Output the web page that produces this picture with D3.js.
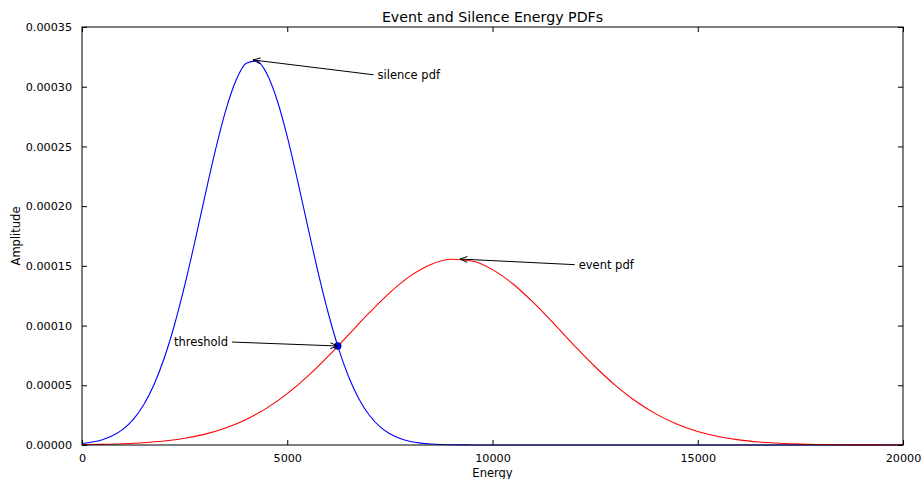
<!DOCTYPE html>
<html>
<head>
<meta charset="utf-8">
<script src="https://cdn.jsdelivr.net/npm/d3@7"></script>
<style>
body { margin: 0; background: #fff; }
text { font-family: "DejaVu Sans", sans-serif; fill: #000; }
</style>
</head>
<body>
<div id="chart"></div>
<script>
// values
var silenceEnergy = [0,250,500,750,1000,1250,1500,1750,2000,2250,2500,2750,3000,3250,3500,3750,4000,4250,4500,4750,5000,5250,5500,5750,6000,6250,6500,6750,7000,7250,7500,7750,8000,8250,8500,8750,9000,9500,10000,11000,12000,13000,14000,15000,16000,17000,18000,19000,20000]
var silenceAmp = [1.285e-6,2.446e-6,4.474e-6,7.859e-6,1.327e-5,2.153e-5,3.357e-5,5.032e-5,7.247e-5,1.0028e-4,1.3335e-4,1.7039e-4,2.0927e-4,2.4695e-4,2.8005e-4,3.0520e-4,3.1962e-4,3.2166e-4,3.1108e-4,2.8911e-4,2.5820e-4,2.2160e-4,1.8277e-4,1.4485e-4,1.1033e-4,8.075e-5,5.679e-5,3.838e-5,2.492e-5,1.557e-5,9.34e-6,5.38e-6,2.98e-6,1.59e-6,8.1e-7,4.0e-7,1.9e-7,3.7e-8,0,0,0,0,0,0,0,0,0,0,0]

var eventEnergy = [0,500,1000,1500,2000,2500,3000,3500,4000,4500,5000,5500,6000,6500,7000,7500,8000,8500,9000,9500,10000,10500,11000,11500,12000,12500,13000,13500,14000,14500,15000,15500,16000,16500,17000,17500,18000,18500,19000,19500,20000]
var eventAmp = [2.86e-7,5.59e-7,1.054e-6,1.914e-6,3.345e-6,5.630e-6,9.125e-6,1.4226e-5,2.1372e-5,3.0903e-5,4.3035e-5,5.7696e-5,7.4474e-5,9.2564e-5,1.1077e-4,1.2763e-4,1.4159e-4,1.5123e-4,1.5553e-4,1.5401e-4,1.4683e-4,1.3478e-4,1.1913e-4,1.0137e-4,8.307e-5,6.552e-5,4.977e-5,3.640e-5,2.563e-5,1.738e-5,1.134e-5,7.13e-6,4.31e-6,2.51e-6,1.41e-6,7.6e-7,4.0e-7,2.0e-7,9.6e-8,4.4e-8,2.0e-8]

var threshold = [6229, 8.29e-5]

var xTicks = [0, 5000, 10000, 15000, 20000]
var yTicks = [0, 0.00005, 0.0001, 0.00015, 0.0002, 0.00025, 0.0003, 0.00035]

// annotation: label, arrow tip (data), text anchor (data)
var noteLabels = ["silence pdf", "event pdf", "threshold"]
var noteTips = [[4166, 3.224e-4], [9208, 1.557e-4], [6229, 8.29e-5]]
var noteTexts = [[7200, 3.10e-4], [12100, 1.51e-4], [2240, 8.62e-5]]

var width = 924, height = 479
var margin = {top: 27, right: 21, bottom: 34, left: 82}

var svg = d3.select("#chart")
        .append("svg")
        .attr("width", width)
        .attr("height", height)

var x = d3.scaleLinear().domain([0, 20000]).range([margin.left, width - margin.right])
var y = d3.scaleLinear().domain([0, 0.00035]).range([height - margin.bottom, margin.top])

var plot = svg.append("g")

function drawCurve(xs, ys, color) {
    var pts = xs.map(function(d, i) { return [d, ys[i]] })
    var line = d3.line()
        .x(function(d) { return x(d[0]) })
        .y(function(d) { return y(d[1]) })
        .curve(d3.curveMonotoneX)
    plot.append("path")
        .datum(pts)
        .attr("d", line)
        .attr("fill", "none")
        .attr("stroke", color)
        .attr("stroke-width", 1.1)
}

drawCurve(silenceEnergy, silenceAmp, "#0000ff")
drawCurve(eventEnergy, eventAmp, "#ff0000")

// frame + axes, ticks inward on all sides
var x0 = margin.left, x1 = width - margin.right
var y0 = height - margin.bottom, y1 = margin.top

svg.append("g")
    .attr("transform", "translate(0," + y0 + ")")
    .call(d3.axisBottom(x).tickValues(xTicks).tickSize(-5).tickPadding(9).tickFormat(d3.format("d")))
    .call(function(g) { g.select(".domain").remove() })
svg.append("g")
    .attr("transform", "translate(0," + y1 + ")")
    .call(d3.axisTop(x).tickValues(xTicks).tickSize(-5).tickFormat(""))
    .call(function(g) { g.select(".domain").remove() })
svg.append("g")
    .attr("transform", "translate(" + x0 + ",0)")
    .call(d3.axisLeft(y).tickValues(yTicks).tickSize(-5).tickPadding(10).tickFormat(function(d) { return d.toFixed(5) }))
    .call(function(g) { g.select(".domain").remove() })
svg.append("g")
    .attr("transform", "translate(" + x1 + ",0)")
    .call(d3.axisRight(y).tickValues(yTicks).tickSize(-5).tickFormat(""))
    .call(function(g) { g.select(".domain").remove() })

svg.selectAll(".tick line").attr("stroke", "#000")
svg.selectAll(".tick text").attr("font-size", 11.2).attr("font-family", "DejaVu Sans").attr("fill", "#111")

svg.append("rect")
    .attr("x", x0).attr("y", y1)
    .attr("width", x1 - x0).attr("height", y0 - y1)
    .attr("fill", "none").attr("stroke", "#000").attr("stroke-width", 1)

// threshold dot
svg.append("circle")
    .attr("cx", x(threshold[0]))
    .attr("cy", y(threshold[1]))
    .attr("r", 3.6)
    .attr("fill", "#0000ff")
    .attr("stroke", "#000")
    .attr("stroke-width", 0.5)

// annotations
noteLabels.forEach(function(label, i) {
    var tx = x(noteTexts[i][0]), ty = y(noteTexts[i][1])
    var t = svg.append("text")
        .attr("x", tx).attr("y", ty)
        .attr("dy", "0.35em")
        .attr("font-size", 11.5)
        .attr("fill", "#111")
        .text(label)
    var w = t.node().getComputedTextLength()
    var px = x(noteTips[i][0]), py = y(noteTips[i][1])
    var sx = px < tx ? tx - 4 : tx + w + 4
    var sy = ty
    svg.append("line")
        .attr("x1", sx).attr("y1", sy)
        .attr("x2", px).attr("y2", py)
        .attr("stroke", "#000").attr("stroke-width", 1)
    var ang = Math.atan2(sy - py, sx - px)
    var L = 8, spread = 0.38
    var head = d3.path()
    head.moveTo(px + L * Math.cos(ang + spread), py + L * Math.sin(ang + spread))
    head.lineTo(px, py)
    head.lineTo(px + L * Math.cos(ang - spread), py + L * Math.sin(ang - spread))
    svg.append("path")
        .attr("d", head.toString())
        .attr("fill", "none").attr("stroke", "#000").attr("stroke-width", 1)
})

// titles
svg.append("text")
    .attr("x", (x0 + x1) / 2).attr("y", 22)
    .attr("text-anchor", "middle")
    .attr("font-size", 14.2)
    .text("Event and Silence Energy PDFs")

svg.append("text")
    .attr("x", (x0 + x1) / 2).attr("y", 477)
    .attr("text-anchor", "middle")
    .attr("font-size", 11.5)
    .text("Energy")

svg.append("text")
    .attr("transform", "translate(20," + ((y0 + y1) / 2) + ") rotate(-90)")
    .attr("text-anchor", "middle")
    .attr("font-size", 11.5)
    .text("Amplitude")
</script>
</body>
</html>
